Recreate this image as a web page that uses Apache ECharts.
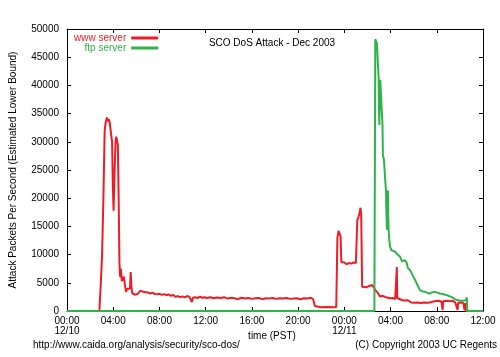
<!DOCTYPE html>
<html>
<head>
<meta charset="utf-8">
<script src="https://cdn.jsdelivr.net/npm/echarts@6/dist/echarts.min.js"></script>
<style>
html,body{margin:0;padding:0;background:#fff;}
#c{width:500px;height:357px;}
</style>
</head>
<body>
<div id="c"></div>
<script>
// time in hours since 00:00 12/10 (PST)
const wwwTime = [0,2.8,2.95,3.03,3.15,3.26,3.35,3.46,3.55,3.62,3.69,3.78,3.83,3.9,3.97,4.03,4.08,4.12,4.2,4.26,4.33,4.4,4.47,4.54,4.6,4.67,4.74,4.8,4.91,5.0,5.11,5.2,5.34,5.45,5.51,5.57,5.63,5.75,5.85,5.97,6.1,6.25,6.35,6.49,6.6,6.75,6.97,7.2,7.4,7.6,7.8,8.0,8.2,8.4,8.6,8.8,9.0,9.2,9.4,9.6,9.8,10.0,10.2,10.4,10.6,10.8,10.9,11.1,11.3,11.5,11.7,11.9,12.1,12.4,12.7,13.0,13.3,13.6,13.9,14.2,14.5,14.8,15.1,15.4,15.7,16.0,16.3,16.6,16.9,17.2,17.5,17.8,18.1,18.4,18.7,19.0,19.3,19.6,19.9,20.2,20.5,20.8,21.1,21.3,21.45,21.6,22.0,22.5,23.0,23.3,23.4,23.5,23.58,23.68,23.74,23.85,24.0,24.2,24.4,24.6,24.8,25.0,25.06,25.12,25.25,25.35,25.4,25.46,25.54,25.7,25.9,26.1,26.4,26.55,26.68,26.9,27.1,27.3,27.5,27.7,27.97,28.2,28.4,28.5,28.54,28.58,28.7,28.97,29.2,29.5,29.8,30.0,30.3,30.6,30.9,31.2,31.5,31.8,32.1,32.4,32.5,32.55,32.8,33.1,33.4,33.6,33.8,33.85,34.1,34.3,34.4,34.45,34.5,36];
const wwwRate = [0,0,6000,9600,20000,32000,33500,34300,33600,34000,33500,33300,33800,30000,22000,17800,17600,25000,30000,30900,31200,29500,20000,8400,6000,7500,5300,5600,6100,4800,3400,3900,3800,4000,6900,4500,3200,3100,2900,2800,3000,3200,3600,3700,3400,3500,3300,3100,3250,3000,2950,3050,2850,3000,2800,2950,2700,2850,2500,2650,2450,2600,2400,2650,2500,1600,2350,2450,2300,2550,2350,2450,2300,2450,2250,2400,2300,2450,2200,2350,2250,2100,2350,2200,2300,2150,2250,2300,2100,2250,2200,2300,2150,2250,2200,2300,2150,2200,2250,2100,2250,2200,2350,2100,900,700,650,700,650,700,13000,14200,14100,13200,8700,8400,8600,8300,8500,8400,8600,8500,8700,16100,16800,17800,18300,17000,4300,4400,4200,4400,4600,4200,3700,3200,2550,2700,2500,2400,2250,2300,2100,2200,7800,2300,2050,1950,1850,1900,1500,1450,1500,1400,1500,1450,1550,1750,1800,1700,200,1750,1800,1750,1800,1500,200,1450,1500,1400,200,1400,0,0];
const ftpTime = [0,26.6,26.65,26.68,26.75,26.83,26.9,26.97,27.0,27.03,27.07,27.11,27.2,27.26,27.3,27.34,27.42,27.49,27.54,27.6,27.65,27.69,27.72,27.77,27.8,27.83,27.89,27.95,28.06,28.2,28.4,28.6,28.83,29.0,29.1,29.26,29.4,29.5,29.7,29.97,30.1,30.26,30.4,30.54,30.75,30.97,31.2,31.4,31.6,31.83,32.05,32.26,32.5,32.83,33.05,33.26,33.5,33.7,34.0,34.26,34.5,34.6,34.63,36];
const ftpRate = [0,0,30000,48200,47800,47400,44000,41300,36000,33000,38000,41000,40800,41000,33000,27400,27000,26800,23200,21400,17000,14400,16000,21400,17000,14400,12600,11500,10800,10600,10500,10000,9600,8800,8700,9000,8500,7600,7200,6100,5600,4900,4300,3700,3500,3400,3200,3100,3300,3400,3250,3100,3000,2850,2650,2500,2200,1950,1850,1800,1900,2400,0,0];
const seriesNames = ['www server','ftp server'];
const xTickLabels = ['00:00\n12/10','04:00','08:00','12:00','16:00','20:00','00:00\n12/11','04:00','08:00','12:00'];
const yTicks = [0,5000,10000,15000,20000,25000,30000,35000,40000,45000,50000];

const RED = '#ee1d25';
const GREEN = '#2fb34a';
const FONT = 'Liberation Sans';

const zip = (a,b) => a.map((t,i) => [t,b[i]]);

const xBase = {
  type:'value', min:0, max:36, interval:4,
  axisLine:{show:true,onZero:false,lineStyle:{color:'#000',width:1}},
  axisTick:{show:true,inside:true,length:4,lineStyle:{color:'#000'}},
  splitLine:{show:false}
};
const yBase = {
  type:'value', min:yTicks[0], max:yTicks[yTicks.length-1], interval:yTicks[1]-yTicks[0],
  axisLine:{show:true,onZero:false,lineStyle:{color:'#000',width:1}},
  axisTick:{show:true,inside:true,length:4,lineStyle:{color:'#000'}},
  splitLine:{show:false}
};

const chart = echarts.init(document.getElementById('c'), null, {renderer:'canvas'});
chart.setOption({
  animation:false,
  backgroundColor:'#fff',
  textStyle:{fontFamily:FONT},
  grid:{left:62,right:17,top:29,bottom:46,containLabel:false},
  title:{
    text:'SCO DoS Attack - Dec 2003',
    left:272, top:38, textAlign:'center', padding:0,
    textStyle:{fontFamily:FONT,fontSize:10,fontWeight:'normal',color:'#000'}
  },
  legend:{
    orient:'vertical', align:'right', left:74, top:33, itemGap:0,
    itemWidth:27, itemHeight:3, icon:'rect', padding:0,
    textStyle:{fontFamily:FONT,fontSize:10,lineHeight:10},
    data:[
      {name:seriesNames[0], textStyle:{color:RED}},
      {name:seriesNames[1], textStyle:{color:GREEN}}
    ]
  },
  xAxis:[
    Object.assign({}, xBase, {
      position:'bottom',
      axisLabel:{show:true,margin:5,fontFamily:FONT,fontSize:10,lineHeight:10,color:'#000',
        formatter:v => xTickLabels[Math.round(v/4)]}
    }),
    Object.assign({}, xBase, {position:'top', axisLabel:{show:false}})
  ],
  yAxis:[
    Object.assign({}, yBase, {
      position:'left',
      name:'Attack Packets Per Second (Estimated Lower Bound)', nameLocation:'middle', nameGap:49,
      nameTextStyle:{fontFamily:FONT,fontSize:10,color:'#000'},
      axisLabel:{show:true,margin:8,fontFamily:FONT,fontSize:10,color:'#000',
        formatter:v => String(v)}
    }),
    Object.assign({}, yBase, {position:'right', axisLabel:{show:false}})
  ],
  graphic:[
    {type:'text', x:272, y:336, style:{text:'time (PST)', fontFamily:FONT, fontSize:10, fill:'#000', align:'center', verticalAlign:'middle'}},
    {type:'text', left:33, top:340, style:{text:'http://www.caida.org/analysis/security/sco-dos/', fontFamily:FONT, fontSize:10, fill:'#000'}},
    {type:'text', right:3, top:340, style:{text:'(C) Copyright 2003 UC Regents', fontFamily:FONT, fontSize:10, fill:'#000'}}
  ],
  series:[
    {name:seriesNames[0], type:'line', data:zip(wwwTime,wwwRate), showSymbol:false, symbol:'none',
      lineStyle:{color:RED,width:2}, itemStyle:{color:RED}, clip:false},
    {name:seriesNames[1], type:'line', data:zip(ftpTime,ftpRate), showSymbol:false, symbol:'none',
      lineStyle:{color:GREEN,width:2}, itemStyle:{color:GREEN}, clip:false}
  ]
});
</script>
</body>
</html>
